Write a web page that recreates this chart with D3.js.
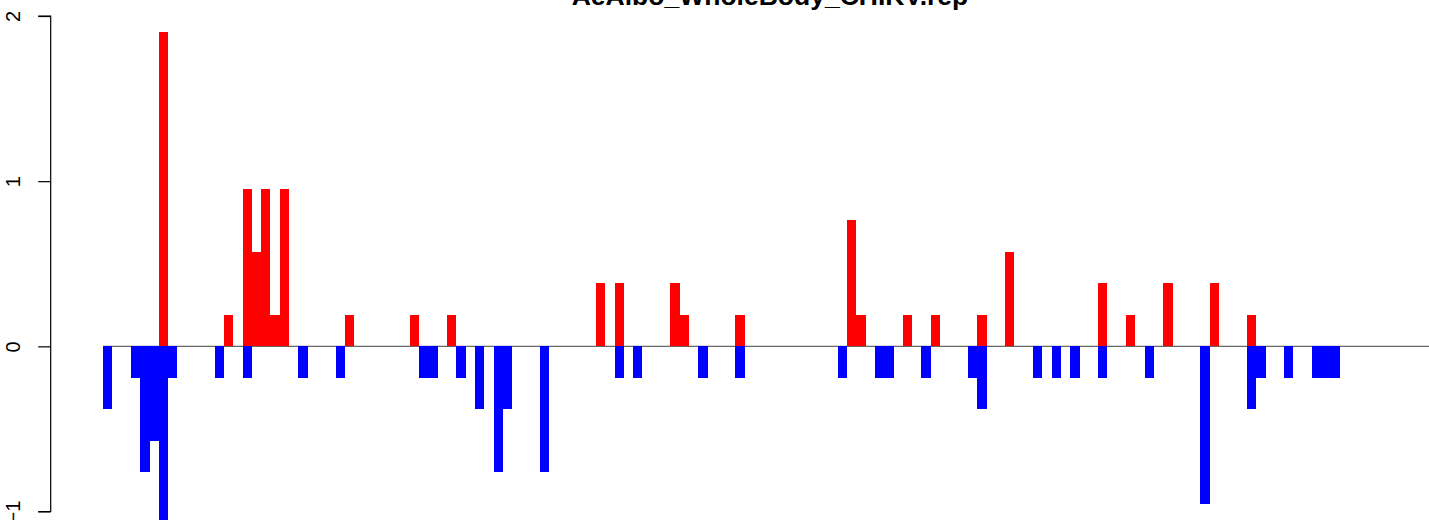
<!DOCTYPE html>
<html>
<head>
<meta charset="utf-8">
<script src="https://cdn.jsdelivr.net/npm/d3@7"></script>
<style>
  html, body { margin: 0; padding: 0; background: #fff; }
  svg { display: block; }
</style>
</head>
<body>
<svg id="chart" width="1429" height="520"></svg>
<script>
const title = "AeAlbo_WholeBody_CHIKV.rep";
const yTicks = [-1, 0, 1, 2];
const nBins = 140;
const bins = Array.from({length: nBins}, (_, i) => i);

// positive (red) values per bin
const upValues = [
  0,0,0,0,0,0,1.906,0,0,0,
  0,0,0,0.191,0,0.953,0.572,0.953,0.191,0.953,
  0,0,0,0,0,0,0.191,0,0,0,
  0,0,0,0.191,0,0,0,0.191,0,0,
  0,0,0,0,0,0,0,0,0,0,
  0,0,0,0.381,0,0.381,0,0,0,0,
  0,0.381,0.191,0,0,0,0,0,0.191,0,
  0,0,0,0,0,0,0,0,0,0,
  0.762,0.191,0,0,0,0,0.191,0,0,0.191,
  0,0,0,0,0.191,0,0,0.572,0,0,
  0,0,0,0,0,0,0,0.381,0,0,
  0.191,0,0,0,0.381,0,0,0,0,0.381,
  0,0,0,0.191,0,0,0,0,0,0,
  0,0,0,0,0,0,0,0,0,0
];

// negative (blue) values per bin
const downValues = [
  -0.381,0,0,-0.191,-0.762,-0.572,-1.143,-0.191,0,0,
  0,0,-0.191,0,0,-0.191,0,0,0,0,
  0,-0.191,0,0,0,-0.191,0,0,0,0,
  0,0,0,0,-0.191,-0.191,0,0,-0.191,0,
  -0.381,0,-0.762,-0.381,0,0,0,-0.762,0,0,
  0,0,0,0,0,-0.191,0,-0.191,0,0,
  0,0,0,0,-0.191,0,0,0,-0.191,0,
  0,0,0,0,0,0,0,0,0,-0.191,
  0,0,0,-0.191,-0.191,0,0,0,-0.191,0,
  0,0,0,-0.191,-0.381,0,0,0,0,0,
  -0.191,0,-0.191,0,-0.191,0,0,-0.191,0,0,
  0,0,-0.191,0,0,0,0,0,-0.953,0,
  0,0,0,-0.381,-0.191,0,0,-0.191,0,0,
  -0.191,-0.191,-0.191,0,0,0,0,0,0,0
];

const svg = d3.select("#chart");
const W = 1429, H = 520;

const x = d3.scaleBand().domain(bins).range([103, 103 + nBins * 9.3]).padding(0);
const y = d3.scaleLinear().domain([-1, 2]).range([511.5, 16]);

// title
svg.append("text")
  .attr("x", 770).attr("y", 5)
  .attr("text-anchor", "middle")
  .attr("font-family", "Liberation Sans, Arial, Helvetica, sans-serif")
  .attr("font-weight", "bold")
  .attr("font-size", 26.5)
  .attr("fill", "#000")
  .text(title);

// zero line
svg.append("line")
  .attr("x1", x(0)).attr("x2", W)
  .attr("y1", y(0)).attr("y2", y(0))
  .attr("stroke", "#666").attr("stroke-width", 1.2);

// bars
svg.append("g").selectAll("rect")
  .data(bins.filter(i => downValues[i] !== 0))
  .join("rect")
  .attr("x", i => x(i))
  .attr("width", x.bandwidth())
  .attr("y", y(0))
  .attr("height", i => y(downValues[i]) - y(0))
  .attr("fill", "#0000FF")
  .attr("shape-rendering", "crispEdges");

svg.append("g").selectAll("rect")
  .data(bins.filter(i => upValues[i] !== 0))
  .join("rect")
  .attr("x", i => x(i))
  .attr("width", x.bandwidth())
  .attr("y", i => y(upValues[i]))
  .attr("height", i => y(0) - y(upValues[i]))
  .attr("fill", "#FF0000")
  .attr("shape-rendering", "crispEdges");

// y axis (R style, rotated labels)
const axis = d3.axisLeft(y).tickValues(yTicks).tickSize(12.5).tickPadding(0).tickFormat(d3.format("d"));
const gAxis = svg.append("g").attr("transform", "translate(50.7,0)").call(axis);
gAxis.select(".domain").attr("stroke", "#000").attr("stroke-width", 1.2)
  .attr("d", `M-12.5,${y(2)}H0V${y(-1)}H-12.5`);
gAxis.selectAll(".tick line").attr("stroke", "#000").attr("stroke-width", 1.2);
gAxis.selectAll(".tick text")
  .attr("x", null).attr("dy", null)
  .attr("text-anchor", "middle")
  .attr("transform", "translate(-30.7,0) rotate(-90)")
  .attr("font-family", "Liberation Sans, Arial, Helvetica, sans-serif")
  .attr("font-size", 20)
  .attr("fill", "#000");
</script>
</body>
</html>
